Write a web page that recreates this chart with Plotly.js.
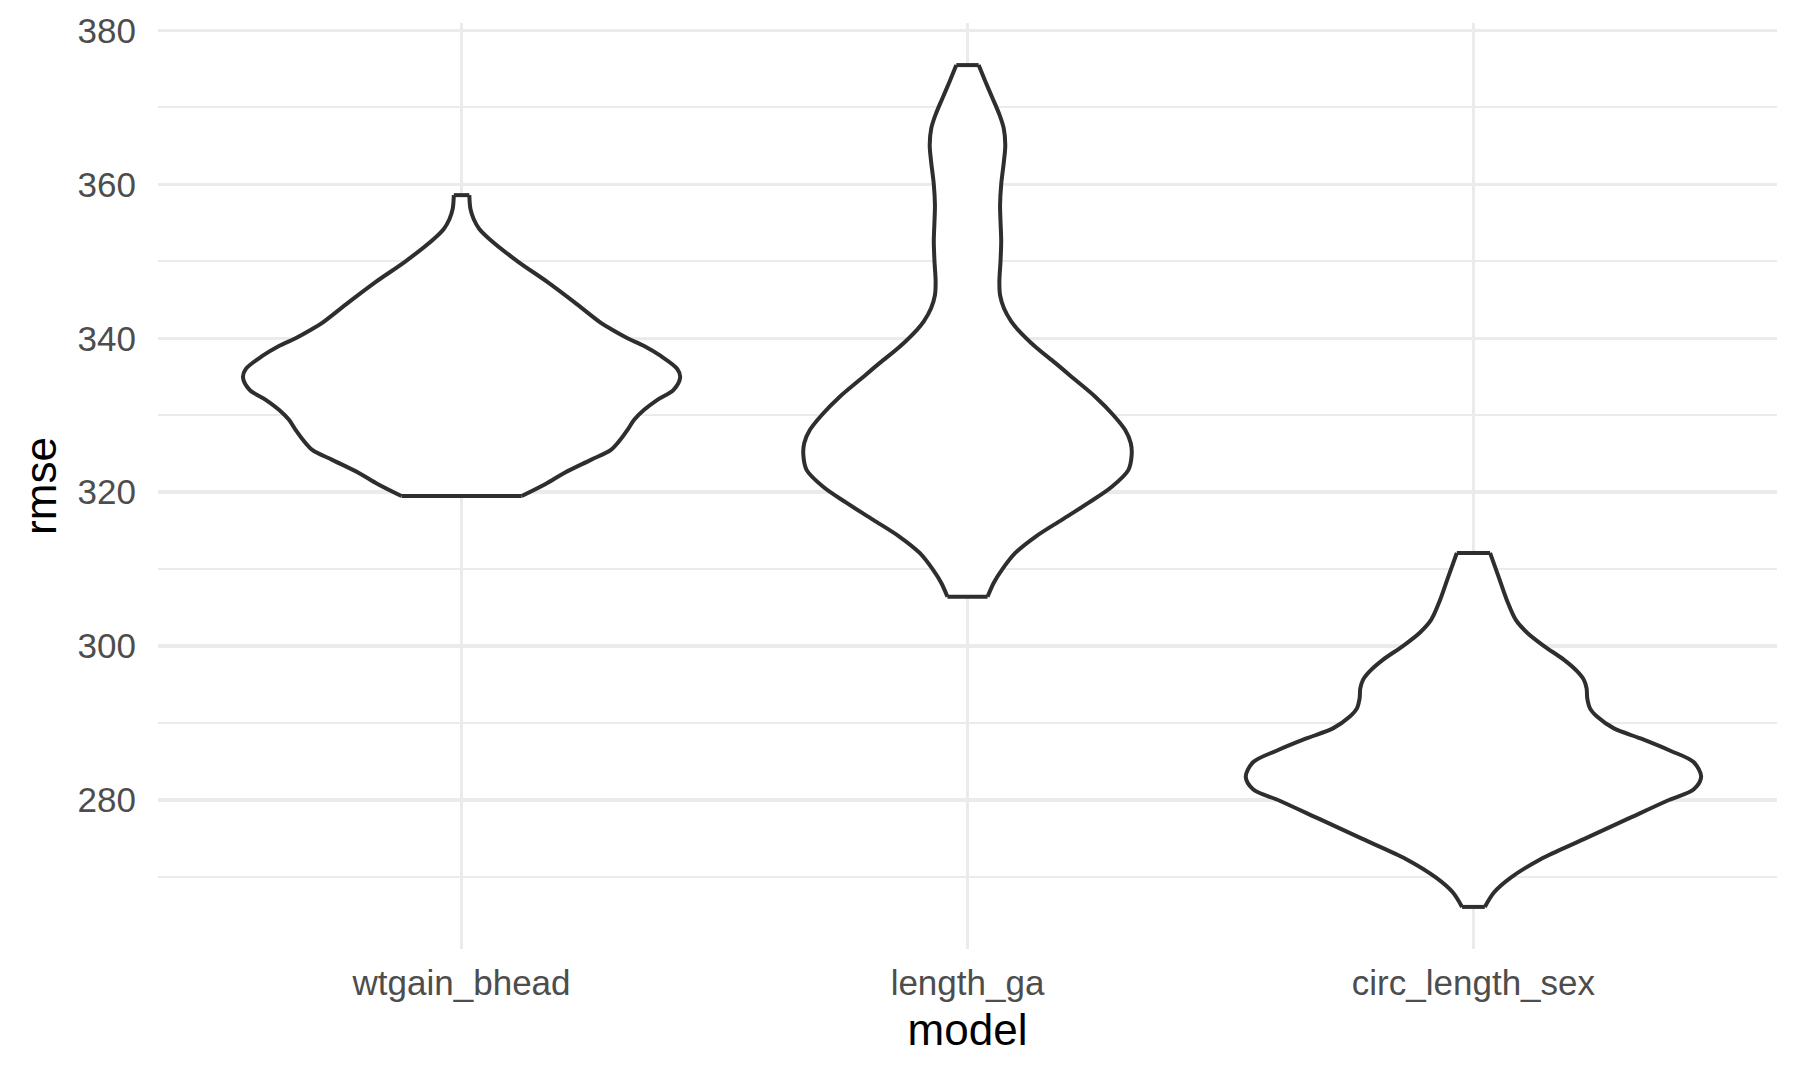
<!DOCTYPE html>
<html>
<head>
<meta charset="utf-8">
<script src="https://cdn.plot.ly/plotly-3.0.1.min.js"></script>
<style>html,body{margin:0;padding:0;background:#ffffff;}</style>
</head>
<body>
<div id="chart" style="width:1799px;height:1080px;"></div>
<script>
// Categories (x axis order)
const models = ["wtgain_bhead", "length_ga", "circ_length_sex"];

// Estimated density profiles (relative density, bottom -> top)
const wtgainRmse = [319.5, 321.1, 322.5, 324.2, 325.5, 326.8, 328.1, 329.4, 330.7, 332.0, 333.3, 334.9, 336.0, 337.7, 339.0, 340.0, 341.2, 342.0, 344.7, 347.3, 350.0, 352.9, 354.2, 355.5, 356.8, 358.6];
const wtgainDensity = [0.264, 0.371, 0.451, 0.568, 0.656, 0.697, 0.729, 0.758, 0.802, 0.860, 0.931, 0.960, 0.948, 0.875, 0.802, 0.729, 0.656, 0.612, 0.495, 0.378, 0.246, 0.122, 0.078, 0.053, 0.039, 0.034];

const lengthGaRmse = [306.4, 308.2, 309.9, 312.1, 314.2, 316.4, 318.6, 320.7, 322.9, 324.8, 326.4, 328.1, 330.0, 332.4, 334.6, 336.8, 338.9, 341.1, 342.2, 343.9, 345.6, 347.4, 350.0, 352.6, 355.2, 357.3, 360.0, 363.0, 365.1, 367.3, 369.0, 371.2, 373.4, 375.5];
const lengthGaDensity = [0.088, 0.115, 0.151, 0.210, 0.298, 0.414, 0.531, 0.634, 0.707, 0.721, 0.717, 0.692, 0.641, 0.561, 0.473, 0.385, 0.298, 0.222, 0.192, 0.160, 0.143, 0.140, 0.145, 0.148, 0.145, 0.143, 0.148, 0.160, 0.166, 0.159, 0.141, 0.110, 0.078, 0.049];

const circRmse = [266.1, 268.0, 269.9, 272.3, 274.9, 277.5, 279.9, 281.4, 283.0, 284.9, 286.4, 288.0, 289.3, 290.8, 291.9, 293.2, 294.5, 295.6, 296.7, 298.2, 300.0, 301.7, 303.4, 305.8, 308.8, 312.1];
const circDensity = [0.050, 0.091, 0.164, 0.295, 0.485, 0.675, 0.851, 0.968, 1.000, 0.968, 0.865, 0.734, 0.617, 0.544, 0.512, 0.500, 0.497, 0.485, 0.456, 0.398, 0.310, 0.237, 0.186, 0.149, 0.113, 0.073];

// Y axis ticks
const yMajorTicks = [280, 300, 320, 340, 360, 380];

const series = [
  {rmse: wtgainRmse, dens: wtgainDensity},
  {rmse: lengthGaRmse, dens: lengthGaDensity},
  {rmse: circRmse, dens: circDensity}
];

const violinWidth = 0.9;
const lineColor = "#2e2e2e";
const lineW = 4;
const maxDens = Math.max(...series.map(s => Math.max(...s.dens)));
const allY = [].concat(...series.map(s => s.rmse));
const yMin = Math.min(...allY), yMax = Math.max(...allY);
const yPad = 0.05 * (yMax - yMin);

const traces = [];
series.forEach((s, i) => {
  const pos = i + 1;
  const hw = s.dens.map(d => d / maxDens * violinWidth / 2);
  const left = hw.map(h => pos - h);
  const right = hw.map(h => pos + h);
  const n = s.rmse.length;
  const fx = left.concat(right.slice().reverse(), [left[0]]);
  const fy = s.rmse.concat(s.rmse.slice().reverse(), [s.rmse[0]]);
  traces.push({x: fx, y: fy, type: "scatter", mode: "lines", fill: "toself",
    fillcolor: "#ffffff", line: {width: 0, color: "rgba(0,0,0,0)"}, hoverinfo: "skip", showlegend: false});
  traces.push({x: left, y: s.rmse, type: "scatter", mode: "lines",
    line: {color: lineColor, width: lineW, shape: "spline", smoothing: 0.9}, hoverinfo: "skip", showlegend: false});
  traces.push({x: right, y: s.rmse, type: "scatter", mode: "lines",
    line: {color: lineColor, width: lineW, shape: "spline", smoothing: 0.9}, hoverinfo: "skip", showlegend: false});
  traces.push({x: [left[n-1], right[n-1], null, left[0], right[0]],
    y: [s.rmse[n-1], s.rmse[n-1], null, s.rmse[0], s.rmse[0]], type: "scatter", mode: "lines",
    line: {color: lineColor, width: lineW}, hoverinfo: "skip", showlegend: false, connectgaps: false});
});

const layout = {
  width: 1799, height: 1080,
  paper_bgcolor: "#ffffff", plot_bgcolor: "#ffffff",
  margin: {l: 158, r: 22, t: 23, b: 131, pad: 0},
  showlegend: false,
  font: {family: "Liberation Sans, Arial, sans-serif"},
  xaxis: {
    range: [0.4, 3.6], tickmode: "array", tickvals: [1, 2, 3], ticktext: models,
    showgrid: true, gridcolor: "#EBEBEB", gridwidth: 3.4,
    zeroline: false, showline: false, ticks: "",
    tickfont: {size: 35, color: "#4D4D4D", family: "Liberation Sans, Arial, sans-serif"},
    ticklabelstandoff: 10,
    title: {text: "model", font: {size: 44, color: "#000000", family: "Liberation Sans, Arial, sans-serif"}, standoff: 13},
    automargin: false, fixedrange: true
  },
  yaxis: {
    range: [yMin - yPad, yMax + yPad], tickmode: "array", tickvals: yMajorTicks,
    showgrid: true, gridcolor: "#EBEBEB", gridwidth: 3.4,
    minor: {dtick: 10, tick0: 270, showgrid: true, gridcolor: "#EBEBEB", gridwidth: 2, ticks: ""},
    zeroline: false, showline: false, ticks: "",
    tickfont: {size: 35, color: "#4D4D4D", family: "Liberation Sans, Arial, sans-serif"},
    ticklabelstandoff: 21,
    title: {text: "rmse", font: {size: 44, color: "#000000", family: "Liberation Sans, Arial, sans-serif"}, standoff: 7},
    automargin: false, fixedrange: true
  }
};

Plotly.newPlot("chart", traces, layout, {displayModeBar: false, staticPlot: true});
</script>
</body>
</html>
